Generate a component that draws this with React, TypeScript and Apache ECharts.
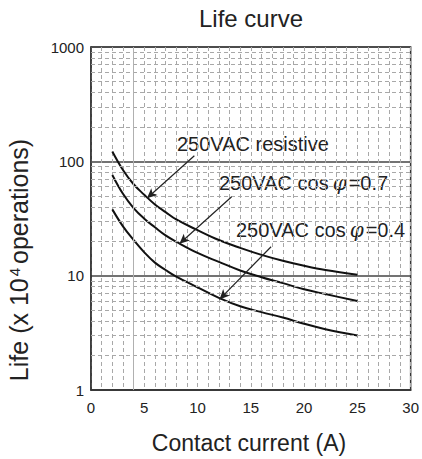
import React, { useEffect, useRef } from "react";
import * as echarts from "echarts";

const currents = [2, 3, 4, 5, 6, 7, 8, 10, 12, 14, 16, 18, 20, 22, 25];
const resistive = [122, 84, 63, 51, 42, 36, 31, 25, 20.5, 17.5, 15.2, 13.5, 12.2, 11.2, 10.2];
const cos07 = [76, 52, 39, 31.5, 26.5, 22.5, 19.8, 15.8, 13.2, 11.1, 9.7, 8.6, 7.6, 6.9, 6.0];
const cos04 = [38, 27, 20.5, 16, 13, 11.2, 9.8, 7.9, 6.4, 5.4, 4.8, 4.3, 3.8, 3.4, 3.0];
const minorLogLines = [2, 3, 4, 5, 6, 7, 8, 9, 20, 30, 40, 50, 60, 70, 80, 90, 200, 300, 400, 500, 600, 700, 800, 900];
// arrows: [fromX, fromY, toX, toY] in data units
const arrowResistive = [9.7, 112, 5.25, 47.5];
const arrow07 = [13.2, 49, 8.3, 19];
const arrow04 = [16.9, 17.9, 12.06, 6.2];

const FONT = "'Liberation Sans', Arial, sans-serif";

function arrowLine(a: number[]) {
  return [
    { coord: [a[0], a[1]], symbol: "none" },
    { coord: [a[2], a[3]], symbol: "arrow" },
  ];
}

export default function App() {
  const ref = useRef<HTMLDivElement>(null);
  useEffect(() => {
    if (!ref.current) return;
    const chart = echarts.init(ref.current, undefined, { renderer: "svg" });
    const curveStyle = { color: "#111", width: 2 };
    const arrowMark = (a: number[]) => ({
      silent: true,
      symbol: ["none", "arrow"],
      symbolSize: [7, 10],
      label: { show: false },
      lineStyle: { color: "#222", width: 1.2, type: "solid" },
      data: [arrowLine(a)],
    });
    const cosRich = {
      a: { fontSize: 20, fontFamily: FONT, fill: "#222" },
      b: { fontSize: 20, fontFamily: "'DejaVu Serif', serif", fontStyle: "italic", fill: "#222", padding: [0, 2, 0, 4] },
    };
    chart.setOption({
      animation: false,
      textStyle: { fontFamily: FONT },
      grid: {
        left: 91,
        right: 10,
        top: 47,
        bottom: 69,
        show: true,
        borderColor: "#333",
        borderWidth: 1.5,
        backgroundColor: "#fff",
      },
      xAxis: {
        type: "value",
        min: 0,
        max: 30,
        interval: 5,
        axisLine: { show: true, lineStyle: { color: "#333", width: 1.5 } },
        axisTick: { show: false },
        axisLabel: { fontSize: 15, color: "#222", margin: 10, fontFamily: FONT },
        splitLine: { show: true, lineStyle: { color: "#a8a8a8", type: [4, 3], width: 1 } },
        minorTick: { show: false, splitNumber: 5 },
        minorSplitLine: { show: true, lineStyle: { color: "#a8a8a8", type: [4, 3], width: 1 } },
      },
      yAxis: {
        type: "log",
        logBase: 10,
        min: 1,
        max: 1000,
        axisLine: { show: true, lineStyle: { color: "#333", width: 1.5 } },
        axisTick: { show: false },
        axisLabel: { fontSize: 15, color: "#222", margin: 7, fontFamily: FONT, formatter: (v: number) => String(Math.round(v)) },
        splitLine: { show: true, lineStyle: { color: "#444", width: 1.5 } },
      },
      graphic: [
        {
          type: "text",
          x: 251,
          y: 18,
          style: { text: "Life curve", fontSize: 24, fill: "#222", fontFamily: FONT, align: "center", verticalAlign: "middle" },
        },
        {
          type: "text",
          x: 249,
          y: 443,
          style: { text: "Contact current (A)", fontSize: 23, fill: "#222", fontFamily: FONT, align: "center", verticalAlign: "middle" },
        },
        {
          type: "text",
          x: 19,
          y: 260,
          rotation: Math.PI / 2,
          style: {
            text: "{a|Life (x 10}{s|4}{a|operations)}",
            fontFamily: FONT,
            fill: "#222",
            align: "center",
            verticalAlign: "middle",
            rich: {
              a: { fontSize: 25, fontFamily: FONT, fill: "#222", lineHeight: 28 },
              s: { fontSize: 15, fontFamily: FONT, fill: "#222", padding: [0, 4, 9, 2], lineHeight: 28 },
            },
          },
        },
        {
          type: "text",
          x: 177,
          y: 144,
          style: { text: "250VAC resistive", fontSize: 20, fill: "#222", fontFamily: FONT, verticalAlign: "middle" },
        },
        {
          type: "text",
          x: 219,
          y: 183,
          style: { text: "{a|250VAC cos}{b|φ}{a|=0.7}", verticalAlign: "middle", rich: cosRich },
        },
        {
          type: "text",
          x: 236,
          y: 230,
          style: { text: "{a|250VAC cos}{b|φ}{a|=0.4}", verticalAlign: "middle", rich: cosRich },
        },
      ],
      series: [
        {
          type: "line",
          data: [],
          silent: true,
          markLine: {
            silent: true,
            symbol: ["none", "none"],
            label: { show: false },
            lineStyle: { color: "#a8a8a8", type: [4, 3], width: 1 },
            data: minorLogLines.map((v) => ({ yAxis: v })),
          },
        },
        {
          type: "line",
          data: [],
          silent: true,
          markLine: {
            silent: true,
            symbol: ["none", "none"],
            label: { show: false },
            lineStyle: { color: "#b0b0b0", type: "solid", width: 1 },
            data: [{ xAxis: 4 }],
          },
        },
        {
          name: "250VAC resistive",
          type: "line",
          smooth: 0.4,
          showSymbol: false,
          lineStyle: curveStyle,
          data: currents.map((c, i) => [c, resistive[i]]),
          markLine: arrowMark(arrowResistive),
        },
        {
          name: "250VAC cos 0.7",
          type: "line",
          smooth: 0.4,
          showSymbol: false,
          lineStyle: curveStyle,
          data: currents.map((c, i) => [c, cos07[i]]),
          markLine: arrowMark(arrow07),
        },
        {
          name: "250VAC cos 0.4",
          type: "line",
          smooth: 0.4,
          showSymbol: false,
          lineStyle: curveStyle,
          data: currents.map((c, i) => [c, cos04[i]]),
          markLine: arrowMark(arrow04),
        },
      ],
    });
    return () => chart.dispose();
  }, []);
  return <div ref={ref} style={{ width: 422, height: 459, position: "absolute", left: 0, top: 0 }} />;
}
